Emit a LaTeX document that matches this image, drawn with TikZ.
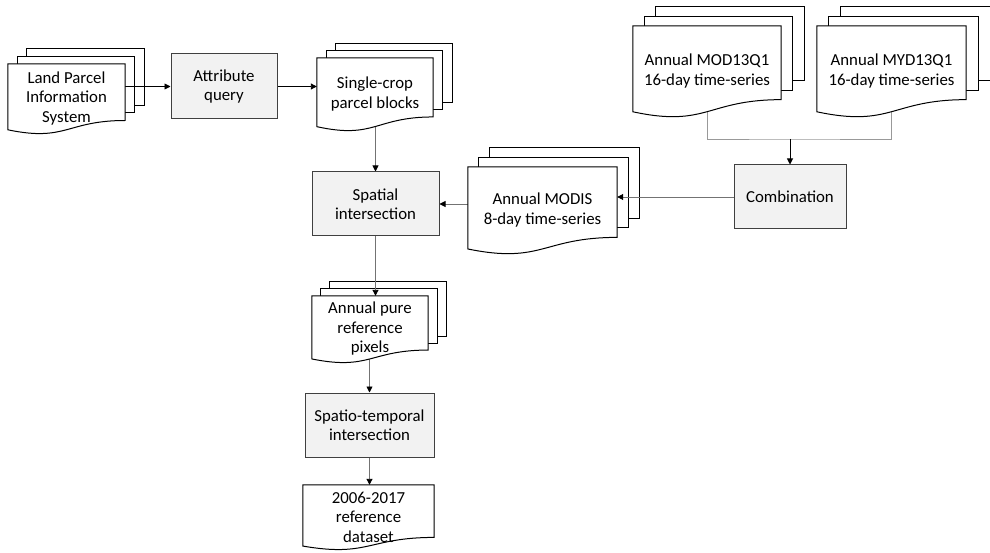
\documentclass[tikz,border=0pt]{standalone}
\usepackage{fontspec}
\setmainfont{Carlito}
\usepackage{tikz}
\usetikzlibrary{arrows.meta,calc,positioning}

\pgfdeclarelayer{back}
\pgfdeclarelayer{lines}
\pgfdeclarelayer{front}
\pgfsetlayers{back,lines,front,main}

% front sheet (document shape) behind node #1
\newcommand{\docsheet}[1]{%
  \begin{pgfonlayer}{front}
    \draw[sheet] (#1.north west) -- (#1.north east) -- ($(#1.north east)!0.817!(#1.south east)$)
      .. controls ($(#1.north)!0.817!(#1.south)$) and ($(#1.north)!1.128!(#1.south)$)
      .. ($(#1.north west)!0.951!(#1.south west)$) -- cycle;
  \end{pgfonlayer}}

% stack of three sheets, the back ones shifted by (#2,#3)
\newcommand{\docstack}[3]{%
  \begin{pgfonlayer}{back}
    \foreach \k in {2,1}
      \draw[sheet] ($(#1.north west)+(\k*#2,\k*#3)$) rectangle ($(#1.north east)!0.817!(#1.south east)+(\k*#2,\k*#3)$);
  \end{pgfonlayer}
  \docsheet{#1}}

\begin{document}
\begin{tikzpicture}[
  x=1pt, y=-1pt,
  every node/.style={font=\fontsize{16.8}{19.5}\selectfont},
  doc/.style={rectangle, inner sep=0pt, align=center},
  box/.style={rectangle, draw=black!75, fill=black!5, line width=1pt, inner sep=0pt, align=center},
  sheet/.style={draw=black, fill=white, line width=1pt},
  arr/.style={draw=black!55, line width=0.9pt, -{Triangle[length=6pt,width=6pt,color=black]}},
  gline/.style={draw=black!40, line width=0.9pt}
]
\useasboundingbox (0,0) rectangle (990,553);

% Left branch
\node[doc, minimum width=117pt, minimum height=69pt] (lpis) at (66.5,98.5) {Land Parcel\\Information\\System};
\node[box, minimum width=106pt, minimum height=65pt] (attr) at (224,86.5) {Attribute\\query};
\node[doc, minimum width=116pt, minimum height=72pt] (single) at (375,94) {Single-crop\\parcel blocks};
\node[box, minimum width=127pt, minimum height=64pt] (spatial) at (375.5,204) {Spatial\\intersection};

% MODIS inputs
\node[doc, minimum width=148pt, minimum height=90pt] (mod) at (707,71) {Annual MOD13Q1\\16-day time-series};
\node[doc, minimum width=149pt, minimum height=90pt] (myd) at (891.5,71) {Annual MYD13Q1\\16-day time-series};
\node[box, minimum width=112pt, minimum height=64pt] (comb) at (790,197) {Combination};
\node[doc, minimum width=149pt, minimum height=86pt] (modis) at (542.5,210) {Annual MODIS\\8-day time-series};

% Outputs
\node[doc, minimum width=116pt, minimum height=66pt] (pure) at (370,329) {Annual pure\\reference\\pixels};
\node[box, minimum width=129pt, minimum height=64pt] (spatio) at (369.5,425) {Spatio-temporal\\intersection};
\node[doc, minimum width=131pt, minimum height=64pt] (ds) at (368.5,517) {2006-2017\\reference\\dataset};

% Sheets
\docstack{lpis}{9.5}{-7.5}
\docstack{single}{9.5}{-7}
\docstack{mod}{11.5}{-9.5}
\docstack{myd}{12}{-9.5}
\docstack{modis}{11}{-9.5}
\docstack{pure}{9}{-7}
\docsheet{ds}

% Connectors
\coordinate (join) at (790,139);
\begin{pgfonlayer}{lines}
  \draw[arr, draw=black] (lpis.east |- attr.west) -- (attr.west);
  \draw[arr, draw=black] (attr.east) -- (single.west |- attr.east);
  \draw[arr] (spatial.north |- single.center) -- (spatial.north);
  \draw[gline] (mod.center) |- (join) -| (myd.center);
  \draw[arr, draw=black] (join) -- (comb.north);
  \draw[arr] (comb.west) -- (modis.east |- comb.west);
  \draw[arr] (modis.west |- spatial.east) -- (spatial.east);
  \draw[arr] (spatial.south) -- (spatial.south |- pure.north);
  \draw[arr] (spatio.north |- pure.center) -- (spatio.north);
  \draw[arr] (spatio.south) -- (spatio.south |- ds.north);
\end{pgfonlayer}

\end{tikzpicture}
\end{document}
